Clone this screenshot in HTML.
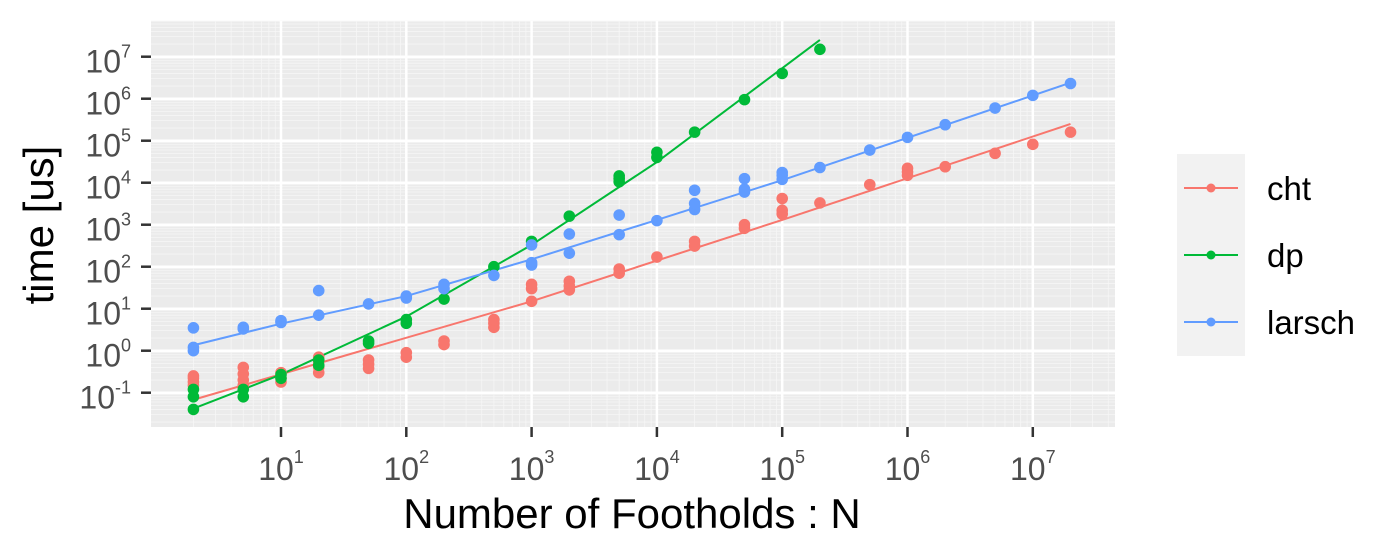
<!DOCTYPE html>
<html><head><meta charset="utf-8"><style>
body{margin:0;background:#fff;}
svg{display:block;font-family:"Liberation Sans",sans-serif;}
</style></head><body>
<svg id="chart" width="1400" height="560" viewBox="0 0 1400 560">
<rect x="151" y="21" width="964" height="406" fill="#ebebeb"/>
<g id="grid"></g><g id="lines"></g><g id="points"></g><g id="axes"></g>
<g>
<rect x="1177" y="154" width="68" height="202" fill="#f2f2f2"/>
<g id="legend"></g>
</g>
<text x="632" y="528" font-size="42" text-anchor="middle" fill="#000">Number of Footholds : N</text>
<text transform="translate(53,225) rotate(-90)" font-size="42" text-anchor="middle" fill="#000">time [us]</text>
</svg>
<script>
const seriesNames=["cht","dp","larsch"];
const seriesColors=["#F8766D","#00BA38","#619CFF"];
const xTickExps=[1,2,3,4,5,6,7];
const yTickExps=[-1,0,1,2,3,4,5,6,7];
const chtN=[2,2,2,2,5,5,5,5,10,10,10,20,20,20,20,50,50,50,100,100,200,200,500,500,500,1000,1000,1000,2000,2000,2000,5000,5000,1e4,2e4,2e4,5e4,5e4,1e5,1e5,1e5,2e5,5e5,1e6,1e6,1e6,2e6,5e6,1e7,2e7];
const chtT=[0.15,0.18,0.22,0.25,0.15,0.2,0.28,0.4,0.18,0.22,0.3,0.3,0.4,0.55,0.7,0.38,0.48,0.6,0.7,0.9,1.4,1.7,3.6,4.5,5.5,15,30,38,28,35,45,70,88,170,310,400,820,1000,1800,2200,4200,3300,9000,15000,18000,22000,24000,50000,82000,160000];
const dpN=[2,2,2,5,5,10,10,20,20,50,50,100,100,200,500,1000,2000,5000,5000,5000,1e4,1e4,2e4,5e4,1e5,2e5];
const dpT=[0.04,0.08,0.12,0.08,0.12,0.22,0.27,0.45,0.6,1.5,1.7,4.5,5.5,17,100,400,1600,10500,12500,14500,40000,53000,160000,950000,4e6,1.5e7];
const larschN=[2,2,2,5,5,10,10,20,20,50,100,100,200,200,500,1000,1000,1000,2000,2000,5000,5000,1e4,2e4,2e4,2e4,5e4,5e4,5e4,1e5,1e5,1e5,2e5,5e5,1e6,2e6,5e6,1e7,2e7];
const larschT=[1.0,1.2,3.5,3.3,3.6,4.7,5.2,7,27,13,18,20,30,38,62,110,125,330,210,600,580,1700,1250,2300,3200,6600,6000,7000,12500,12000,15000,17500,23000,60000,120000,240000,600000,1.2e6,2.3e6];
const chtFitN=[2,1e3,1e5,2e7], chtFitT=[0.068,15,1300,250000];
const dpFitN=[2,10,100,1000,1e4,2e5], dpFitT=[0.042,0.27,6.5,330,31000,2.5e7];
const larschFitN=[2,10,100,1000,1e4,1e5,2e7], larschFitT=[1.35,4.4,20,150,1300,11500,2.4e6];

const X=n=>155.7+125.3*Math.log10(n);
const Y=t=>350.7-42*Math.log10(t);
const NS="http://www.w3.org/2000/svg";
function mk(tag,attrs,parent){const e=document.createElementNS(NS,tag);for(const k in attrs)e.setAttribute(k,attrs[k]);parent.appendChild(e);return e;}
const grid=document.getElementById('grid'),lines=document.getElementById('lines'),pts=document.getElementById('points'),axes=document.getElementById('axes'),leg=document.getElementById('legend');
for(let e=-2;e<=8;e++){for(let m=2;m<=9;m++){
 const v=m*Math.pow(10,e);
 const x=X(v); if(x>151&&x<1115){const l=mk('line',{x1:x,x2:x,y1:21,y2:427,stroke:'#f6f6f6','stroke-width':0.8},grid);
 
 }
 const y=Y(v); if(y>21&&y<427){const l=mk('line',{x1:151,x2:1115,y1:y,y2:y,stroke:'#f6f6f6','stroke-width':0.8},grid);
 
 }
}}
xTickExps.forEach(e=>{const x=X(Math.pow(10,e));
 const l=mk('line',{x1:x,x2:x,y1:21,y2:427,stroke:'#fff','stroke-width':2.5},grid);
 
 
 const t=mk('line',{x1:x,x2:x,y1:427,y2:437,stroke:'#333','stroke-width':2.5},axes);
 
 
 const tx=mk('text',{x:x,y:480,'font-size':32,fill:'#4d4d4d','text-anchor':'middle'},axes);
 
 
 tx.innerHTML='10<tspan font-size="18" dy="-17">'+e+'</tspan>';
});
yTickExps.forEach(e=>{const y=Y(Math.pow(10,e));
 const l=mk('line',{x1:151,x2:1115,y1:y,y2:y,stroke:'#fff','stroke-width':2.5},grid);
 
 
 const t=mk('line',{x1:141,x2:151,y1:y,y2:y,stroke:'#333','stroke-width':2.5},axes);
 
 
 const tx=mk('text',{x:131,y:y+16,'font-size':32,fill:'#4d4d4d','text-anchor':'end'},axes);
 
 
 tx.innerHTML='10<tspan font-size="18" dy="-15">'+e+'</tspan>';
});
const series=[[chtN,chtT,chtFitN,chtFitT],[dpN,dpT,dpFitN,dpFitT],[larschN,larschT,larschFitN,larschFitT]];
series.forEach((s,i)=>{
 const c=seriesColors[i];
 const p=mk('polyline',{points:s[2].map((n,j)=>X(n)+','+Y(s[3][j])).join(' '),fill:'none',stroke:c,'stroke-width':2},lines);
 
 
 s[0].forEach((n,j)=>{const d=mk('circle',{cx:X(n),cy:Y(s[1][j]),r:5.8,fill:c},pts);
 
 });
 const ly=188+67*i;
 const ll=mk('line',{x1:1184,x2:1238,y1:ly,y2:ly,stroke:c,'stroke-width':2},leg);
 
 
 const lc=mk('circle',{cx:1211,cy:ly,r:4.5,fill:c},leg);
 
 
 const lt=mk('text',{x:1267,y:ly+12,'font-size':33,fill:'#000'},leg);
 
 
 lt.textContent=seriesNames[i];
});
</script>
</body></html>
